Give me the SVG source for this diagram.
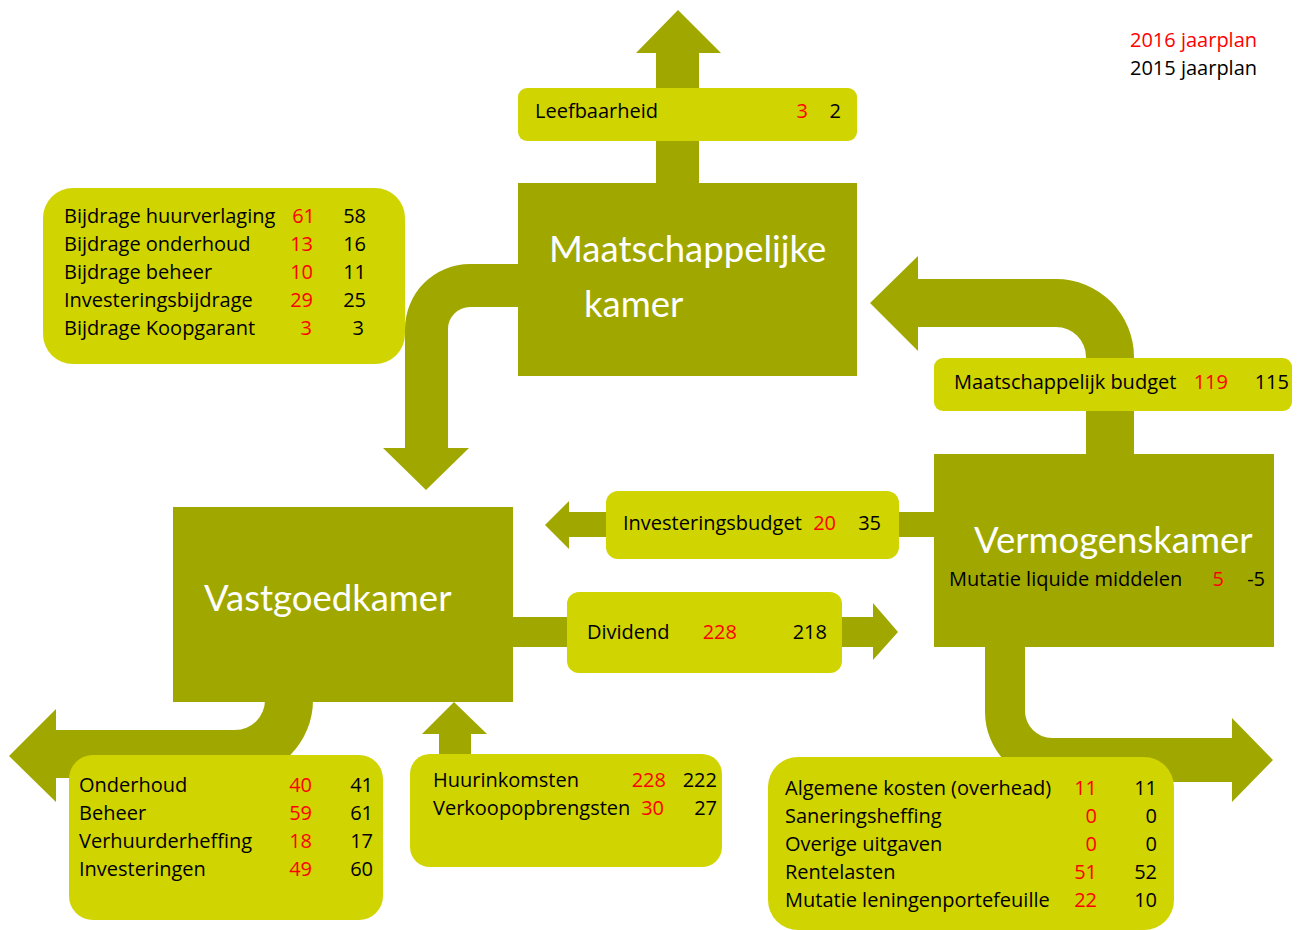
<svg xmlns="http://www.w3.org/2000/svg" width="1300" height="930" viewBox="0 0 1300 930">
<style>
.dk{fill:#A0A800}
.lt{fill:#D0D400}
text{font-family:"Open Sans",Lato,"Liberation Sans",sans-serif;font-size:20px;fill:#000}
.r{fill:#FF0000}
.e{text-anchor:end}
.t{fill:#FFFFFF;font-size:36.5px;font-family:Lato,"Open Sans",sans-serif}
</style>
<rect width="1300" height="930" fill="#FFFFFF"/>
<g id="connectors">
<path class="dk" d="M656 185 L656 53 L636 53 L678 10 L721 53 L699 53 L699 185 Z"/>
<path class="dk" d="M520 264 L470 264 A65 65 0 0 0 405 329 L405 448 L383 448 L426 490 L469 448 L448 448 L448 329 A22 22 0 0 1 470 307 L520 307 Z"/>
<path class="dk" d="M1134 456 L1134 357 A78 78 0 0 0 1056 279 L918 279 L918 256 L870 303 L918 351 L918 327 L1056 327 A30 30 0 0 1 1086 357 L1086 456 Z"/>
<path class="dk" d="M985 645 L985 712 A70 70 0 0 0 1055 782 L1232 782 L1232 802 L1273 760 L1232 718 L1232 738 L1052 738 A27 27 0 0 1 1025 711 L1025 645 Z"/>
<path class="dk" d="M313 700 A78 78 0 0 1 235 778 L56 778 L56 802 L9 756 L56 709 L56 730 L235 730 A30 30 0 0 0 265 700 Z"/>
<path class="dk" d="M511 617 L873 617 L873 603 L898 632 L873 660 L873 647 L511 647 Z"/>
<path class="dk" d="M936 512 L569 512 L569 501 L545 525 L569 549 L569 537 L936 537 Z"/>
<path class="dk" d="M439 757 L439 734 L422 734 L454 702 L487 734 L471 734 L471 757 Z"/>
</g>
<g id="maatschappelijke-kamer">
<rect class="dk" x="518" y="183" width="339" height="193"/>
<text class="t" x="549" y="262">Maatschappelijke</text>
<text class="t" x="584" y="317">kamer</text>
</g>
<g id="vastgoedkamer">
<rect class="dk" x="173" y="507" width="340" height="195"/>
<text class="t" x="204" y="611">Vastgoedkamer</text>
</g>
<g id="vermogenskamer">
<rect class="dk" x="934" y="454" width="340" height="193"/>
<text class="t" x="974" y="553">Vermogenskamer</text>
<text x="949" y="586">Mutatie liquide middelen</text>
<text class="r e" x="1224" y="586">5</text>
<text class="e" x="1265" y="586">-5</text>
</g>
<g id="leefbaarheid">
<rect class="lt" x="518" y="88" width="339" height="53" rx="9"/>
<text x="535" y="118">Leefbaarheid</text>
<text class="r e" x="808" y="118">3</text>
<text class="e" x="841" y="118">2</text>
</g>
<g id="bijdragen">
<rect class="lt" x="43" y="188" width="362" height="176" rx="30"/>
<text x="64" y="223">Bijdrage huurverlaging</text>
<text class="r e" x="315" y="223">61</text>
<text class="e" x="366" y="223">58</text>
<text x="64" y="251">Bijdrage onderhoud</text>
<text class="r e" x="313" y="251">13</text>
<text class="e" x="366" y="251">16</text>
<text x="64" y="279">Bijdrage beheer</text>
<text class="r e" x="313" y="279">10</text>
<text class="e" x="366" y="279">11</text>
<text x="64" y="307">Investeringsbijdrage</text>
<text class="r e" x="313" y="307">29</text>
<text class="e" x="366" y="307">25</text>
<text x="64" y="335">Bijdrage Koopgarant</text>
<text class="r e" x="312" y="335">3</text>
<text class="e" x="364" y="335">3</text>
</g>
<g id="maatschappelijk-budget">
<rect class="lt" x="934" y="358" width="358" height="53" rx="9"/>
<text x="954" y="389">Maatschappelijk budget</text>
<text class="r e" x="1228" y="389">119</text>
<text class="e" x="1289" y="389">115</text>
</g>
<g id="investeringsbudget">
<rect class="lt" x="606" y="491" width="293" height="68" rx="12"/>
<text x="623" y="530">Investeringsbudget</text>
<text class="r e" x="836" y="530">20</text>
<text class="e" x="881" y="530">35</text>
</g>
<g id="dividend">
<rect class="lt" x="567" y="592" width="275" height="81" rx="12"/>
<text x="587" y="639">Dividend</text>
<text class="r e" x="737" y="639">228</text>
<text class="e" x="827" y="639">218</text>
</g>
<g id="uitgaven-vastgoed">
<rect class="lt" x="69" y="755" width="314" height="165" rx="24"/>
<text x="79" y="792">Onderhoud</text>
<text class="r e" x="312" y="792">40</text>
<text class="e" x="373" y="792">41</text>
<text x="79" y="820">Beheer</text>
<text class="r e" x="312" y="820">59</text>
<text class="e" x="373" y="820">61</text>
<text x="79" y="848">Verhuurderheffing</text>
<text class="r e" x="312" y="848">18</text>
<text class="e" x="373" y="848">17</text>
<text x="79" y="876">Investeringen</text>
<text class="r e" x="312" y="876">49</text>
<text class="e" x="373" y="876">60</text>
</g>
<g id="inkomsten">
<rect class="lt" x="410" y="754" width="312" height="113" rx="20"/>
<text x="433" y="787">Huurinkomsten</text>
<text class="r e" x="666" y="787">228</text>
<text class="e" x="717" y="787">222</text>
<text x="433" y="815">Verkoopopbrengsten</text>
<text class="r e" x="664" y="815">30</text>
<text class="e" x="717" y="815">27</text>
</g>
<g id="uitgaven-vermogen">
<rect class="lt" x="768" y="757" width="406" height="173" rx="30"/>
<text x="785" y="795">Algemene kosten (overhead)</text>
<text class="r e" x="1097" y="795">11</text>
<text class="e" x="1157" y="795">11</text>
<text x="785" y="823">Saneringsheffing</text>
<text class="r e" x="1097" y="823">0</text>
<text class="e" x="1157" y="823">0</text>
<text x="785" y="851">Overige uitgaven</text>
<text class="r e" x="1097" y="851">0</text>
<text class="e" x="1157" y="851">0</text>
<text x="785" y="879">Rentelasten</text>
<text class="r e" x="1097" y="879">51</text>
<text class="e" x="1157" y="879">52</text>
<text x="785" y="907">Mutatie leningenportefeuille</text>
<text class="r e" x="1097" y="907">22</text>
<text class="e" x="1157" y="907">10</text>
</g>
<g id="legend">
<text class="r" x="1130" y="47">2016 jaarplan</text>
<text x="1130" y="75">2015 jaarplan</text>
</g>
</svg>
